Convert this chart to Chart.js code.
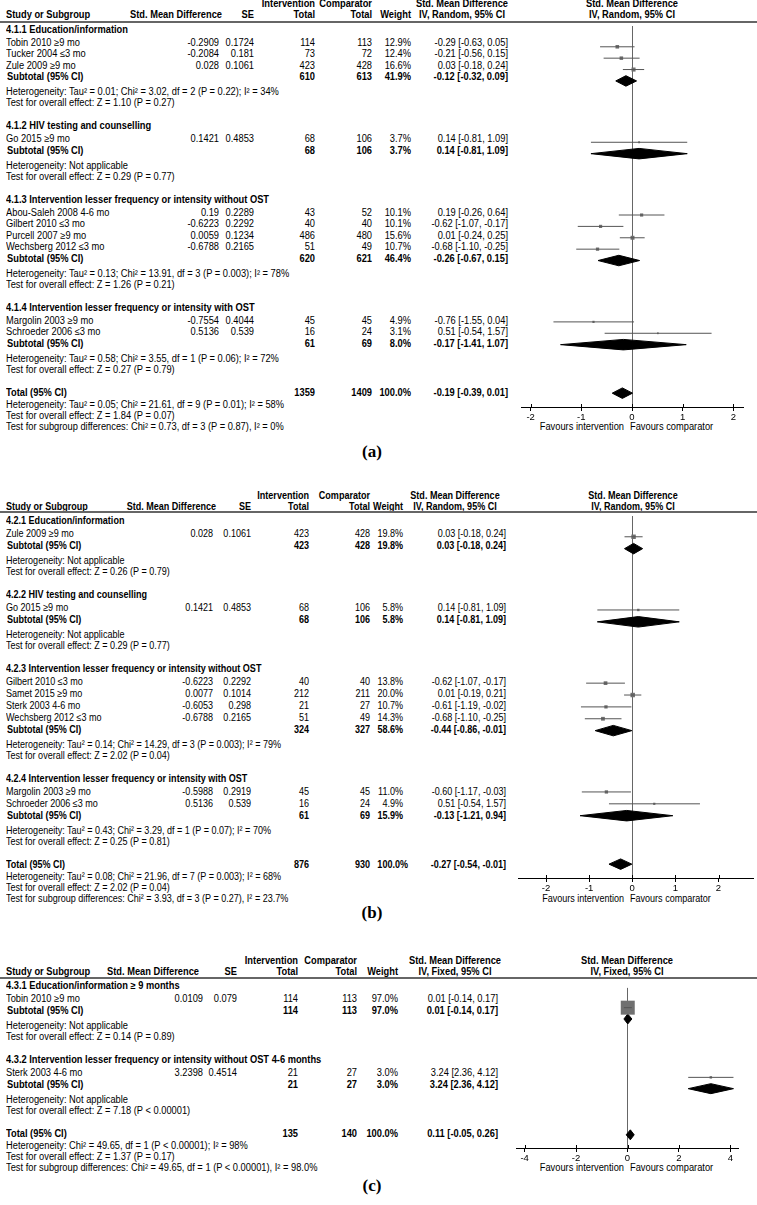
<!DOCTYPE html>
<html><head><meta charset="utf-8">
<script src="https://cdn.jsdelivr.net/npm/chart.js@4.4.1/dist/chart.umd.min.js"></script>
<style>
html,body{margin:0;padding:0;background:#fff;}
#page{position:relative;width:757px;height:1205px;overflow:hidden;background:#fff;font-family:'Liberation Sans',Arial,sans-serif;color:#000;}
.t{position:absolute;white-space:nowrap;line-height:12px;height:12px;}
.b{font-weight:bold;}
.rule{position:absolute;left:0;width:757px;height:0;border-top:2px solid #666;}
.cap{position:absolute;font-family:'Liberation Serif','Times New Roman',serif;font-weight:bold;font-size:17px;line-height:20px;transform:translate(-50%,-50%);}
.plot{position:absolute;}
</style></head><body><div id="page"></div>
<script>
// ---------- Panel (a) data ----------
const groupsA = ['4.1.1 Education/information','4.1.2 HIV testing and counselling','4.1.3 Intervention lesser frequency or intensity without OST','4.1.4 Intervention lesser frequency or intensity with OST'];
const studiesA = ['Tobin 2010 \u22659 mo','Tucker 2004 \u22643 mo','Zule 2009 \u22659 mo','Go 2015 \u22659 mo','Abou-Saleh 2008 4-6 mo','Gilbert 2010 \u22643 mo','Purcell 2007 \u22659 mo','Wechsberg 2012 \u22643 mo','Margolin 2003 \u22659 mo','Schroeder 2006 \u22643 mo'];
const groupOfA = [0,0,0,1,2,2,2,2,3,3];
const smdA = [-0.2909,-0.2084,0.028,0.1421,0.19,-0.6223,0.0059,-0.6788,-0.7554,0.5136];
const seA = [0.1724,0.181,0.1061,0.4853,0.2289,0.2292,0.1234,0.2165,0.4044,0.539];
const nIntA = [114,73,423,68,43,40,486,51,45,16];
const nCmpA = [113,72,428,106,52,40,480,49,45,24];
const weightA = [12.9,12.4,16.6,3.7,10.1,10.1,15.6,10.7,4.9,3.1];
const estA = [-0.29,-0.21,0.03,0.14,0.19,-0.62,0.01,-0.68,-0.76,0.51];
const loA = [-0.63,-0.56,-0.18,-0.81,-0.26,-1.07,-0.24,-1.10,-1.55,-0.54];
const hiA = [0.05,0.15,0.24,1.09,0.64,-0.17,0.25,-0.25,0.04,1.57];
const subNIntA = [610,68,620,61];
const subNCmpA = [613,106,621,69];
const subWeightA = [41.9,3.7,46.4,8.0];
const subEstA = [-0.12,0.14,-0.26,-0.17];
const subLoA = [-0.32,-0.81,-0.67,-1.41];
const subHiA = [0.09,1.09,0.15,1.07];
const subHetA = ['Heterogeneity: Tau\u00b2 = 0.01; Chi\u00b2 = 3.02, df = 2 (P = 0.22); I\u00b2 = 34%','Heterogeneity: Not applicable','Heterogeneity: Tau\u00b2 = 0.13; Chi\u00b2 = 13.91, df = 3 (P = 0.003); I\u00b2 = 78%','Heterogeneity: Tau\u00b2 = 0.58; Chi\u00b2 = 3.55, df = 1 (P = 0.06); I\u00b2 = 72%'];
const subZA = ['Test for overall effect: Z = 1.10 (P = 0.27)','Test for overall effect: Z = 0.29 (P = 0.77)','Test for overall effect: Z = 1.26 (P = 0.21)','Test for overall effect: Z = 0.27 (P = 0.79)'];
const totNA = [1359,1409];
const totCIA = [-0.19,-0.39,0.01];
const totTextA = ['Heterogeneity: Tau\u00b2 = 0.05; Chi\u00b2 = 21.61, df = 9 (P = 0.01); I\u00b2 = 58%','Test for overall effect: Z = 1.84 (P = 0.07)','Test for subgroup differences: Chi\u00b2 = 0.73, df = 3 (P = 0.87), I\u00b2 = 0%'];
const ticksA = [-2,-1,0,1,2];

// ---------- Panel (b) data ----------
const groupsB = ['4.2.1 Education/information','4.2.2 HIV testing and counselling','4.2.3 Intervention lesser frequency or intensity without OST','4.2.4 Intervention lesser frequency or intensity with OST'];
const studiesB = ['Zule 2009 \u22659 mo','Go 2015 \u22659 mo','Gilbert 2010 \u22643 mo','Samet 2015 \u22659 mo','Sterk 2003 4-6 mo','Wechsberg 2012 \u22643 mo','Margolin 2003 \u22659 mo','Schroeder 2006 \u22643 mo'];
const groupOfB = [0,1,2,2,2,2,3,3];
const smdB = [0.028,0.1421,-0.6223,0.0077,-0.6053,-0.6788,-0.5988,0.5136];
const seB = [0.1061,0.4853,0.2292,0.1014,0.298,0.2165,0.2919,0.539];
const nIntB = [423,68,40,212,21,51,45,16];
const nCmpB = [428,106,40,211,27,49,45,24];
const weightB = [19.8,5.8,13.8,20.0,10.7,14.3,11.0,4.9];
const estB = [0.03,0.14,-0.62,0.01,-0.61,-0.68,-0.60,0.51];
const loB = [-0.18,-0.81,-1.07,-0.19,-1.19,-1.10,-1.17,-0.54];
const hiB = [0.24,1.09,-0.17,0.21,-0.02,-0.25,-0.03,1.57];
const subNIntB = [423,68,324,61];
const subNCmpB = [428,106,327,69];
const subWeightB = [19.8,5.8,58.6,15.9];
const subEstB = [0.03,0.14,-0.44,-0.13];
const subLoB = [-0.18,-0.81,-0.86,-1.21];
const subHiB = [0.24,1.09,-0.01,0.94];
const subHetB = ['Heterogeneity: Not applicable','Heterogeneity: Not applicable','Heterogeneity: Tau\u00b2 = 0.14; Chi\u00b2 = 14.29, df = 3 (P = 0.003); I\u00b2 = 79%','Heterogeneity: Tau\u00b2 = 0.43; Chi\u00b2 = 3.29, df = 1 (P = 0.07); I\u00b2 = 70%'];
const subZB = ['Test for overall effect: Z = 0.26 (P = 0.79)','Test for overall effect: Z = 0.29 (P = 0.77)','Test for overall effect: Z = 2.02 (P = 0.04)','Test for overall effect: Z = 0.25 (P = 0.81)'];
const totNB = [876,930];
const totCIB = [-0.27,-0.54,-0.01];
const totTextB = ['Heterogeneity: Tau\u00b2 = 0.08; Chi\u00b2 = 21.96, df = 7 (P = 0.003); I\u00b2 = 68%','Test for overall effect: Z = 2.02 (P = 0.04)','Test for subgroup differences: Chi\u00b2 = 3.93, df = 3 (P = 0.27), I\u00b2 = 23.7%'];
const ticksB = [-2,-1,0,1,2];

// ---------- Panel (c) data ----------
const groupsC = ['4.3.1 Education/information \u2265 9 months','4.3.2 Intervention lesser frequency or intensity without OST 4-6 months'];
const studiesC = ['Tobin 2010 \u22659 mo','Sterk 2003 4-6 mo'];
const groupOfC = [0,1];
const smdC = [0.0109,3.2398];
const seC = [0.079,0.4514];
const nIntC = [114,21];
const nCmpC = [113,27];
const weightC = [97.0,3.0];
const estC = [0.01,3.24];
const loC = [-0.14,2.36];
const hiC = [0.17,4.12];
const subNIntC = [114,21];
const subNCmpC = [113,27];
const subWeightC = [97.0,3.0];
const subEstC = [0.01,3.24];
const subLoC = [-0.14,2.36];
const subHiC = [0.17,4.12];
const subHetC = ['Heterogeneity: Not applicable','Heterogeneity: Not applicable'];
const subZC = ['Test for overall effect: Z = 0.14 (P = 0.89)','Test for overall effect: Z = 7.18 (P < 0.00001)'];
const totNC = [135,140];
const totCIC = [0.11,-0.05,0.26];
const totTextC = ['Heterogeneity: Chi\u00b2 = 49.65, df = 1 (P < 0.00001); I\u00b2 = 98%','Test for overall effect: Z = 1.37 (P = 0.17)','Test for subgroup differences: Chi\u00b2 = 49.65, df = 1 (P < 0.00001), I\u00b2 = 98.0%'];
const ticksC = [-4,-2,0,2,4];

// ---------- helpers ----------
const page = document.getElementById('page');
let FONT = {size: 10, sx: 0.93};
function txt(s, x, y, cls){
  cls = cls || '';
  const d = document.createElement('div');
  d.className = 't' + (cls.indexOf('b') >= 0 ? ' b' : '');
  d.textContent = s;
  d.style.left = x + 'px';
  d.style.top = (y - 6) + 'px';
  d.style.fontSize = FONT.size + 'px';
  if (cls.indexOf('r') >= 0) { d.style.transformOrigin = 'right center'; d.style.transform = 'translateX(-100%) scaleX(' + FONT.sx + ')'; }
  else if (cls.indexOf('c') >= 0) { d.style.transformOrigin = 'center center'; d.style.transform = 'translateX(-50%) scaleX(' + FONT.sx + ')'; }
  else { d.style.transformOrigin = 'left center'; d.style.transform = 'scaleX(' + FONT.sx + ')'; }
  page.appendChild(d);
  return d;
}
function ci(e, l, h){ return e.toFixed(2) + ' [' + l.toFixed(2) + ', ' + h.toFixed(2) + ']'; }
function pct(w){ return w.toFixed(1) + '%'; }

const tickUp = {
  id: 'tickUp',
  afterDraw(chart){
    const xs = chart.scales.x, ctx = chart.ctx, b = chart.chartArea.bottom;
    ctx.save(); ctx.strokeStyle = '#000'; ctx.lineWidth = 1;
    xs.ticks.forEach(t => {
      const px = Math.round(xs.getPixelForValue(t.value)) + 0.5;
      ctx.beginPath(); ctx.moveTo(px, b - 3); ctx.lineTo(px, b); ctx.stroke();
    });
    ctx.restore();
  }
};

function panel(P, L){
  FONT = L.font;
  const h1 = L.rule - 17.5, h2 = L.rule - 6.5;
  txt('Intervention', L.int, h1, 'b r');
  txt('Comparator', L.cmp, h1, 'b r');
  txt('Std. Mean Difference', L.ciC, h1, 'b c');
  txt('Std. Mean Difference', L.plotC, h1, 'b c');
  txt('Study or Subgroup', L.left, h2, 'b');
  txt('Std. Mean Difference', L.smdH, h2, 'b r');
  txt('SE', L.se, h2, 'b r');
  txt('Total', L.int, h2, 'b r');
  txt('Total', L.cmp, h2, 'b r');
  txt('Weight', L.w, h2, 'b r');
  txt(P.method, L.ciC, h2, 'b c');
  txt(P.method, L.plotC, h2, 'b c');
  const rl = document.createElement('div'); rl.className = 'rule'; rl.style.top = (L.rule - 1) + 'px'; page.appendChild(rl);

  let y = L.rule + 8;
  const studyY = [], subY = [];
  P.groups.forEach((g, gi) => {
    txt(g, L.left, y, 'b');
    y += 13;
    let first = true;
    P.groupOf.forEach((gg, i) => {
      if (gg !== gi) return;
      if (!first) y += L.step;
      first = false;
      studyY[i] = y;
      txt(P.studies[i], L.left, y);
      txt(String(P.smd[i]), L.smd, y, 'r');
      txt(String(P.se[i]), L.se, y, 'r');
      txt(String(P.nInt[i]), L.int, y, 'r');
      txt(String(P.nCmp[i]), L.cmp, y, 'r');
      txt(pct(P.weight[i]), L.w, y, 'r');
      txt(ci(P.est[i], P.lo[i], P.hi[i]), L.ciR, y, 'r');
    });
    y += L.step;
    subY[gi] = y;
    txt('Subtotal (95% CI)', L.left + 1, y, 'b');
    txt(String(P.subNInt[gi]), L.int, y, 'b r');
    txt(String(P.subNCmp[gi]), L.cmp, y, 'b r');
    txt(pct(P.subWeight[gi]), L.w, y, 'b r');
    txt(ci(P.subEst[gi], P.subLo[gi], P.subHi[gi]), L.ciR, y, 'b r');
    txt(P.subHet[gi], L.left, y + 15);
    txt(P.subZ[gi], L.left, y + 26);
    y += 49;
  });
  const totY = y;
  txt('Total (95% CI)', L.left, totY, 'b');
  txt(String(P.totN[0]), L.int, totY, 'b r');
  txt(String(P.totN[1]), L.cmp, totY, 'b r');
  txt('100.0%', L.wT, totY, 'b r');
  txt(ci(P.totCI[0], P.totCI[1], P.totCI[2]), L.ciR, totY, 'b r');
  P.totText.forEach((s, k) => txt(s, L.left, totY + 12 + 11 * k));
  const axisY = totY + 14;
  txt('Favours intervention', 624, axisY + 20, 'r');
  txt('Favours comparator', 630, axisY + 20);
  const cap = document.createElement('div'); cap.className = 'cap'; cap.textContent = P.caption;
  cap.style.left = L.capX + 'px'; cap.style.top = L.capY + 'px'; page.appendChild(cap);

  // chart
  const wrap = document.createElement('div'); wrap.className = 'plot';
  wrap.style.left = L.axL + 'px'; wrap.style.top = L.rule + 'px';
  wrap.style.width = (L.axR - L.axL) + 'px'; wrap.style.height = (axisY - L.rule + 30) + 'px';
  const cv = document.createElement('canvas'); wrap.appendChild(cv); page.appendChild(wrap);

  const datasets = [];
  P.studies.forEach((s, i) => {
    datasets.push({type: 'line', data: [{x: P.lo[i], y: studyY[i]}, {x: P.hi[i], y: studyY[i]}],
      borderColor: '#555', borderWidth: 1, pointRadius: 0, fill: false});
  });
  datasets.push({type: 'scatter', data: P.est.map((e, i) => ({x: e, y: studyY[i]})),
    pointStyle: 'rect', backgroundColor: '#707070', borderWidth: 0,
    pointRadius: P.weight.map(w => Math.max(1.6, L.box * Math.sqrt(w)) / Math.SQRT2)});
  const dia = (e, l, h, yy) => ({type: 'line',
    data: [{x: l, y: yy}, {x: e, y: yy - 5.3}, {x: h, y: yy}, {x: e, y: yy + 5.3}, {x: l, y: yy}],
    borderColor: '#000', backgroundColor: '#000', borderWidth: 1, pointRadius: 0, fill: 'shape', tension: 0});
  P.subEst.forEach((e, gi) => datasets.push(dia(e, P.subLo[gi], P.subHi[gi], subY[gi])));
  datasets.push(dia(P.totCI[0], P.totCI[1], P.totCI[2], totY));

  new Chart(cv, {
    type: 'line',
    data: {datasets},
    options: {
      responsive: true, maintainAspectRatio: false, animation: false, events: [],
      layout: {padding: 0},
      plugins: {legend: {display: false}, tooltip: {enabled: false}},
      scales: {
        x: {type: 'linear', min: L.xmin, max: L.xmax, bounds: 'data',
          afterFit: s => { s.height = 30; },
          afterBuildTicks: s => { s.ticks = P.ticks.map(v => ({value: v})); },
          border: {display: true, color: '#000', width: 1},
          grid: {drawOnChartArea: true, drawTicks: true, tickLength: 4, tickColor: '#000', lineWidth: 1,
            color: c => (c.tick && c.tick.value === 0) ? '#666' : 'rgba(0,0,0,0)'},
          ticks: {color: '#000', font: {family: 'Liberation Sans', size: 9.5}, padding: 1, maxRotation: 0, autoSkip: false,
            callback: v => String(v)}
        },
        y: {type: 'linear', display: false, min: L.rule, max: axisY, reverse: true, bounds: 'data'}
      }
    },
    plugins: [tickUp]
  });
}

panel({groups: groupsA, studies: studiesA, groupOf: groupOfA, smd: smdA, se: seA, nInt: nIntA, nCmp: nCmpA,
  weight: weightA, est: estA, lo: loA, hi: hiA, subNInt: subNIntA, subNCmp: subNCmpA, subWeight: subWeightA,
  subEst: subEstA, subLo: subLoA, subHi: subHiA, subHet: subHetA, subZ: subZA, totN: totNA, totCI: totCIA,
  totText: totTextA, ticks: ticksA, method: 'IV, Random, 95% CI', caption: '(a)'},
  {rule: 21.5, step: 11.5, left: 6, smd: 219, smdH: 222, se: 254, int: 315, cmp: 372, w: 411, wT: 411, ciR: 508, ciC: 462, plotC: 632,
   axL: 517, axR: 747, xmin: -2.19, xmax: 2.19, box: 1.0, capX: 372, capY: 452, font: {size: 10, sx: 0.93}});

panel({groups: groupsB, studies: studiesB, groupOf: groupOfB, smd: smdB, se: seB, nInt: nIntB, nCmp: nCmpB,
  weight: weightB, est: estB, lo: loB, hi: hiB, subNInt: subNIntB, subNCmp: subNCmpB, subWeight: subWeightB,
  subEst: subEstB, subLo: subLoB, subHi: subHiB, subHet: subHetB, subZ: subZB, totN: totNB, totCI: totCIB,
  totText: totTextB, ticks: ticksB, method: 'IV, Random, 95% CI', caption: '(b)'},
  {rule: 512, step: 12, left: 6, smd: 213, smdH: 216, se: 251, int: 309, cmp: 370, w: 403, wT: 408, ciR: 506, ciC: 455, plotC: 633,
   axL: 514, axR: 757, xmin: -2.65, xmax: 2.8, box: 1.0, capX: 372, capY: 913, font: {size: 10.5, sx: 0.86}});

panel({groups: groupsC, studies: studiesC, groupOf: groupOfC, smd: smdC, se: seC, nInt: nIntC, nCmp: nCmpC,
  weight: weightC, est: estC, lo: loC, hi: hiC, subNInt: subNIntC, subNCmp: subNCmpC, subWeight: subWeightC,
  subEst: subEstC, subLo: subLoC, subHi: subHiC, subHet: subHetC, subZ: subZC, totN: totNC, totCI: totCIC,
  totText: totTextC, ticks: ticksC, method: 'IV, Fixed, 95% CI', caption: '(c)'},
  {rule: 978, step: 12, left: 6, smd: 203, smdH: 199, se: 237, int: 298, cmp: 357, w: 398, wT: 398, ciR: 498, ciC: 455, plotC: 627,
   axL: 507, axR: 748, xmin: -4.3, xmax: 4.3, box: 1.42, capX: 372, capY: 1186, font: {size: 10, sx: 0.93}});
</script></body></html>
